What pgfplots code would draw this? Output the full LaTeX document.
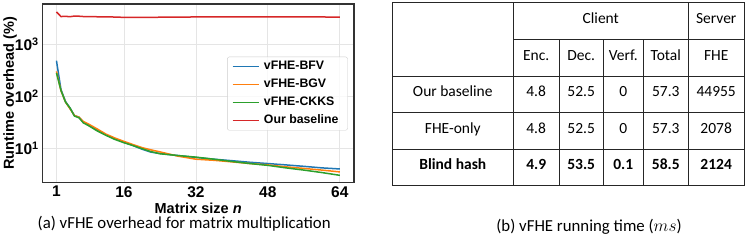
\documentclass[border=0pt]{standalone}
\usepackage{pgfplots}
\pgfplotsset{compat=1.18}
\usepackage{fontspec}
\setmainfont{Carlito}
\setsansfont{Liberation Sans}
\definecolor{tabblue}{HTML}{1F77B4}
\definecolor{taborange}{HTML}{FF7F0E}
\definecolor{tabgreen}{HTML}{2CA02C}
\definecolor{tabred}{HTML}{D62728}
\pgfplotsset{
  mylegline/.style={legend image code/.code={\draw[##1, line width=1.6pt] (0pt,0pt) -- (26pt,0pt);}},
}
\begin{document}
\begin{tikzpicture}[x=1pt,y=1pt]
\useasboundingbox (0,0) rectangle (748,240);
\begin{axis}[
  at={(42.3pt,57.3pt)}, anchor=south west,
  width=311.7pt, height=178.7pt, scale only axis,
  ymode=log,
  xmin=-2.15, xmax=67.15, ymin=2.24, ymax=5820,
  xtick={1,16,32,48,64}, xticklabels={1,16,32,48,64},
  ytick={10,100,1000},
  yticklabels={10\textsuperscript{1},10\textsuperscript{2},10\textsuperscript{3}},
  major tick length=0pt, minor tick length=0pt,
  grid=major,
  major grid style={color=black!10, line width=0.8pt},
  axis line style={color=black!80, line width=1.2pt},
  tick label style={font=\fontsize{15.5}{15.5}\sffamily\bfseries},
  label style={font=\fontsize{14.5}{17}\sffamily\bfseries},
  xlabel={Matrix size \textit{n}},
  ylabel={Runtime overhead (\%)},
  xlabel style={at={(axis description cs:0.5,-0.1416)}, anchor=center},
  ylabel style={at={(axis description cs:-0.1036,0.5)}, anchor=center},
  legend style={at={(rel axis cs:0.9798,0.7051)}, anchor=north east,
    draw=black!20, rounded corners=2pt, fill=white, fill opacity=0.8, text opacity=1,
    font=\fontsize{12.3}{14}\sffamily\bfseries, row sep=0pt, inner xsep=4.5pt, inner ysep=0.7pt,
    nodes={inner xsep=4.5pt, inner ysep=3.25pt, text height=9pt, text depth=2.5pt}},
  legend cell align=left,
]
\addplot[tabblue, line width=1.5pt, no markers, mylegline] coordinates {
(1,480) (2,135) (3,80) (4,60) (5,43) (6,40) (7,32) (8,29) (10,23) (12,18.5) (14,15.5) (16,13.3)
(18,11.5) (20,9.8) (22,8.6) (24,8.1) (28,7.4) (32,6.8) (36,6.3) (40,5.9) (44,5.5) (48,5.2)
(52,4.9) (56,4.6) (60,4.3) (64,4.1)};
\addlegendentry{vFHE-BFV}
\addplot[taborange, line width=1.5pt, no markers, mylegline] coordinates {
(1,300) (2,128) (3,78) (4,58) (5,43) (6,40) (7,33) (8,30) (10,24) (12,19) (14,16) (16,13.8)
(18,12) (20,10.5) (22,9.5) (24,8.7) (28,7.2) (32,6.3) (36,6.0) (40,5.6) (44,5.2) (48,4.9)
(52,4.5) (56,4.2) (60,3.9) (64,3.6)};
\addlegendentry{vFHE-BGV}
\addplot[tabgreen, line width=1.5pt, no markers, mylegline] coordinates {
(1,280) (2,130) (3,78) (4,60) (5,42) (6,39) (7,31) (8,28) (10,22) (12,18) (14,15) (16,13)
(18,11.5) (20,10) (22,8.8) (24,8.0) (28,7.4) (32,6.9) (36,6.3) (40,5.7) (44,5.2) (48,4.8)
(52,4.3) (56,3.9) (60,3.5) (64,3.1)};
\addlegendentry{vFHE-CKKS}
\addplot[tabred, line width=1.5pt, no markers, mylegline] coordinates {
(1,4100) (2,3350) (3,3380) (4,3330) (5,3420) (6,3400) (7,3350) (8,3330) (10,3320) (12,3300)
(14,3280) (16,3230) (20,3230) (24,3250) (32,3290) (40,3300) (48,3300) (56,3290) (64,3280)};
\addlegendentry{Our baseline}
\end{axis}
\node[font=\fontsize{16.8}{19}\selectfont] at (184.2,16) {(a) vFHE overhead for matrix multiplication};
\node[font=\fontsize{16.8}{19}\selectfont] at (589,13.3) {(b) vFHE running time (\(ms\))};
% table
\begin{scope}[line width=0.9pt, black!85]
\draw (392.3,54.3) rectangle (744,237.3);
\draw (392.3,164) -- (744,164);
\draw (392.3,127.3) -- (744,127.3);
\draw (392.3,90.7) -- (744,90.7);
\draw (513.3,200.7) -- (744,200.7);
\draw (513.3,54.3) -- (513.3,237.3);
\draw (688.3,54.3) -- (688.3,237.3);
\draw (559,54.3) -- (559,200.7);
\draw (603.3,54.3) -- (603.3,200.7);
\draw (643.3,54.3) -- (643.3,200.7);
\end{scope}
\begin{scope}[every node/.style={font=\fontsize{15.5}{18}\selectfont, anchor=mid}]
\node at (600.8,219) {Client};
\node at (716.2,219) {Server};
\node at (536.2,182.3) {Enc.};
\node at (581.2,182.3) {Dec.};
\node at (623.3,182.3) {Verf.};
\node at (665.8,182.3) {Total};
\node at (716.2,182.3) {FHE};
\node at (452.8,145.7) {Our baseline};
\node at (536.2,145.7) {4.8};
\node at (581.2,145.7) {52.5};
\node at (623.3,145.7) {0};
\node at (665.8,145.7) {57.3};
\node at (716.2,145.7) {44955};
\node at (452.8,109) {FHE-only};
\node at (536.2,109) {4.8};
\node at (581.2,109) {52.5};
\node at (623.3,109) {0};
\node at (665.8,109) {57.3};
\node at (716.2,109) {2078};
\node at (452.8,72.5) {\bfseries Blind hash};
\node at (536.2,72.5) {\bfseries 4.9};
\node at (581.2,72.5) {\bfseries 53.5};
\node at (623.3,72.5) {\bfseries 0.1};
\node at (665.8,72.5) {\bfseries 58.5};
\node at (716.2,72.5) {\bfseries 2124};
\end{scope}
\end{tikzpicture}
\end{document}
